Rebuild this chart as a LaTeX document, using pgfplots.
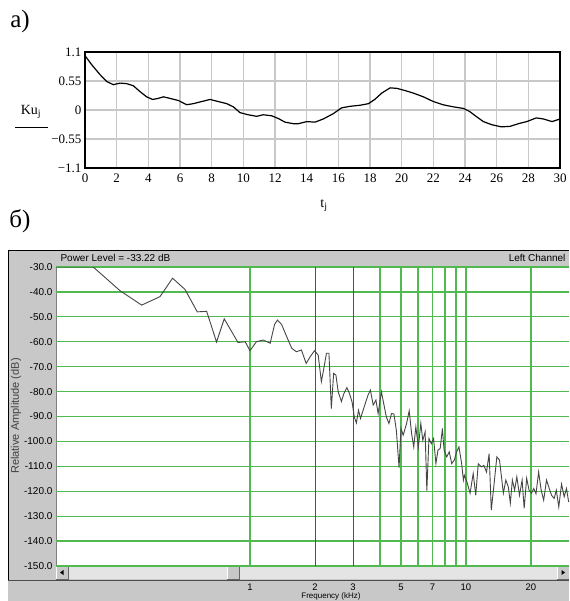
\documentclass[border=0pt]{standalone}
\usepackage{fontspec}
\setmainfont{Liberation Serif}
\setsansfont{Liberation Sans}
\usepackage{pgfplots}
\pgfplotsset{compat=1.18}
\definecolor{winbg}{RGB}{200,200,200}
\definecolor{scrollbg}{RGB}{228,228,228}
\definecolor{gridgreen}{RGB}{80,185,80}
\definecolor{darkgreen}{RGB}{25,120,25}
\definecolor{mcgrid}{RGB}{200,200,200}
\definecolor{curvegray}{RGB}{70,70,70}
\begin{document}
\begin{tikzpicture}[x=1pt,y=1pt]
\path[use as bounding box] (0,0) rectangle (569,-601);
\fill[white] (0,0) rectangle (569,-601);
% ---------- panel a ----------
\node[font=\fontsize{25}{25}\selectfont] at (20,-21) {а)};
\node[font=\fontsize{14}{14}\selectfont] at (31,-112) {Ku\textsubscript{j}};
\draw[line width=0.8pt] (15,-127) -- (48,-127);
\node[font=\fontsize{14}{14}\selectfont] at (324,-206) {t\textsubscript{j}};
\begin{axis}[at={(85pt,-52pt)}, anchor=north west, scale only axis,
  width=475pt, height=116pt,
  xmin=0, xmax=30, ymin=-1.1, ymax=1.1,
  xtick={0,2,...,30},
  ytick={-1.1,-0.55,0,0.55,1.1},
  yticklabels={−1.1,−0.55,0,0.55,1.1},
  grid=major, grid style={mcgrid, line width=1.3pt},
  axis line style={black, line width=1.1pt},
  major tick length=0pt,
  tick label style={font=\fontsize{13}{13}\selectfont},
  xticklabel style={yshift=-2pt},
  /pgf/number format/assume math mode=true]
\addplot[black, line width=1.2pt] coordinates {
(0,1.03) (0.42,0.86) (0.95,0.67) (1.37,0.54) (1.79,0.48) (2.21,0.51) (2.63,0.50)
(3.05,0.46) (3.47,0.35) (3.89,0.25) (4.27,0.20) (4.63,0.22) (4.95,0.25) (5.37,0.22)
(5.9,0.18) (6.42,0.10) (6.84,0.12) (7.37,0.16) (7.9,0.20) (8.42,0.16) (8.95,0.12)
(9.37,0.06) (9.79,-0.05) (10.3,-0.09) (10.84,-0.12) (11.26,-0.09) (11.79,-0.11)
(12.2,-0.16) (12.63,-0.23) (13.16,-0.26) (13.47,-0.26) (14.0,-0.22) (14.53,-0.23)
(15.05,-0.17) (15.68,-0.07) (16.2,0.04) (16.74,0.07) (17.37,0.09) (17.9,0.12)
(18.3,0.20) (18.74,0.32) (19.27,0.42) (19.7,0.41) (20.2,0.37) (20.74,0.32)
(21.37,0.25) (22.0,0.16) (22.6,0.10) (23.26,0.06) (23.9,0.03) (24.3,-0.03)
(24.74,-0.13) (25.16,-0.22) (25.7,-0.28) (26.3,-0.32) (26.85,-0.31) (27.37,-0.26)
(27.9,-0.22) (28.5,-0.15) (28.95,-0.17) (29.5,-0.22) (30,-0.17)
};
\end{axis}
% ---------- panel b ----------
\node[font=\fontsize{25}{25}\selectfont] at (20,-221) {б)};
\fill[winbg] (8,-250) rectangle (569,-601);
\fill[white] (56,-267) rectangle (569,-566);
\draw[black!50, line width=0.6pt] (56,-566) -- (56,-267);
\draw[black, line width=1pt] (8,-580) -- (8,-250) -- (569,-250);
\draw[black!70, line width=1pt] (8,-580.5) -- (569,-580.5);
\fill[scrollbg] (56,-566) rectangle (569,-579);
\fill[winbg] (56,-566) rectangle (68,-579);
\draw[white] (56,-579) -- (56,-566) -- (68,-566);
\draw[black!60] (56,-579) -- (68,-579) -- (68,-566);
\fill[black] (60,-572.5) -- (63.5,-570) -- (63.5,-575) -- cycle;
\fill[winbg] (227,-566) rectangle (239,-579);
\draw[white] (227,-579) -- (227,-566) -- (239,-566);
\draw[black!60] (227,-579) -- (239,-579) -- (239,-566);
\fill[winbg] (557,-566) rectangle (569,-579);
\draw[white] (557,-579) -- (557,-566) -- (569,-566);
\draw[black!60] (557,-579) -- (569,-579);
\fill[black] (565,-572.5) -- (561.5,-570) -- (561.5,-575) -- cycle;
\node[font=\sffamily\fontsize{10}{10}\selectfont, anchor=west] at (57,-258) {Power Level = -33.22 dB};
\node[font=\sffamily\fontsize{10}{10}\selectfont, anchor=east] at (569,-258) {Left Channel};
\node[font=\sffamily\fontsize{11}{11}\selectfont, rotate=90, text=black!75] at (16,-416) {Relative Amplitude (dB)};
\node[font=\sffamily\fontsize{8}{8}\selectfont, anchor=north, inner sep=0pt] at (331,-592) {Frequency (kHz)};
\begin{axis}[at={(56pt,-267pt)}, anchor=north west, scale only axis,
  width=513pt, height=299pt,
  xmode=log, xmin=0.1264, xmax=30, ymin=-150, ymax=-30,
  xtick={1,4,5,6,7,8,9,10,20},
  xticklabels={1,,5,,7,,,10,20},
  extra x ticks={2,3}, extra x tick labels={2,3},
  extra x tick style={grid style={darkgreen, line width=1pt}},
  minor xtick={},
  ytick={-150,-140,...,-30},
  grid=major, grid style={gridgreen, line width=1.2pt},
  axis line style={draw=none},
  major tick length=0pt,
  tick label style={font=\sffamily\fontsize{10}{10}\selectfont},
  xticklabel style={yshift=-14pt, font=\sffamily\fontsize{9.5}{9.5}\selectfont},
  yticklabel style={/pgf/number format/.cd, fixed, fixed zerofill, precision=1},
  /pgf/number format/assume math mode=true,
  clip=true]
\addplot[curvegray, line width=0.9pt] coordinates {
(0.126,-30) (0.188,-30) (0.25,-39.5) (0.315,-45.3) (0.383,-41.9) (0.438,-34.5)
(0.5,-39) (0.57,-48) (0.63,-47.8) (0.70,-60.1) (0.76,-50.8) (0.88,-60.3) (0.95,-60)
(1.0,-63.6) (1.07,-60) (1.15,-59.3) (1.24,-60.6) (1.30,-53) (1.34,-51.3) (1.40,-53)
(1.48,-58) (1.56,-62.6) (1.64,-64) (1.73,-63.3) (1.82,-68.7) (1.90,-66) (1.99,-63.6)
(2.07,-65.4) (2.14,-76) (2.19,-71.4) (2.26,-64.6) (2.32,-64.6) (2.38,-86.8)
(2.44,-72.7) (2.50,-73.4) (2.56,-80) (2.65,-84) (2.72,-80.8) (2.81,-78.4)
(2.89,-80.8) (2.97,-84.2) (3.04,-90.2) (3.11,-92.6) (3.18,-87.5) (3.25,-90.8)
(3.38,-86.1) (3.52,-81.4) (3.61,-79.4) (3.72,-85.4) (3.83,-83.4) (3.92,-88.8)
(4.06,-80.1) (4.13,-83.4) (4.28,-90.2) (4.40,-92.8) (4.52,-88.8) (4.64,-89)
(4.76,-95.5) (4.90,-110.5) (5.0,-94.8) (5.12,-97.5) (5.31,-92.8) (5.46,-87.7)
(5.60,-96.8) (5.73,-102.2) (5.86,-94.2) (6.02,-102.2) (6.18,-92.8) (6.31,-99.6)
(6.47,-96.2) (6.59,-119.7) (6.74,-98.8) (6.91,-100.9) (7.08,-98.8) (7.26,-108.9)
(7.42,-103.5) (7.60,-102.8) (7.78,-94.8) (7.92,-103.5) (8.15,-106.2) (8.37,-104.2)
(8.59,-108.9) (8.83,-107.5) (9.05,-104.2) (9.28,-102.2) (9.55,-108.9) (9.73,-115.5)
(9.83,-113.6) (10.1,-116.2) (10.45,-120.8) (10.8,-112.9) (11.1,-121.6) (11.4,-109)
(11.8,-110.2) (12.1,-109.6) (12.45,-112.3) (12.8,-104.9) (13.1,-127.6) (13.5,-116.9)
(13.9,-106.2) (14.3,-107.5) (14.6,-114.2) (14.9,-120.8) (15.3,-115.5) (15.7,-118.2)
(16.05,-124.8) (16.4,-115.5) (16.8,-119.6) (17.2,-114.2) (17.7,-121.6) (18.2,-115.5)
(18.6,-126.9) (19.1,-114.8) (19.6,-119.6) (20.1,-120.8) (20.6,-118.9) (21.1,-121)
(21.7,-112.3) (22.3,-119.6) (22.9,-123.6) (23.6,-115.5) (24.3,-118.9) (24.9,-121.6)
(25.6,-122.9) (26.2,-119.6) (26.9,-126.3) (27.7,-117.1) (28.5,-122.2) (29.2,-118.9)
(29.9,-124.3)
};
\end{axis}
\end{tikzpicture}
\end{document}
